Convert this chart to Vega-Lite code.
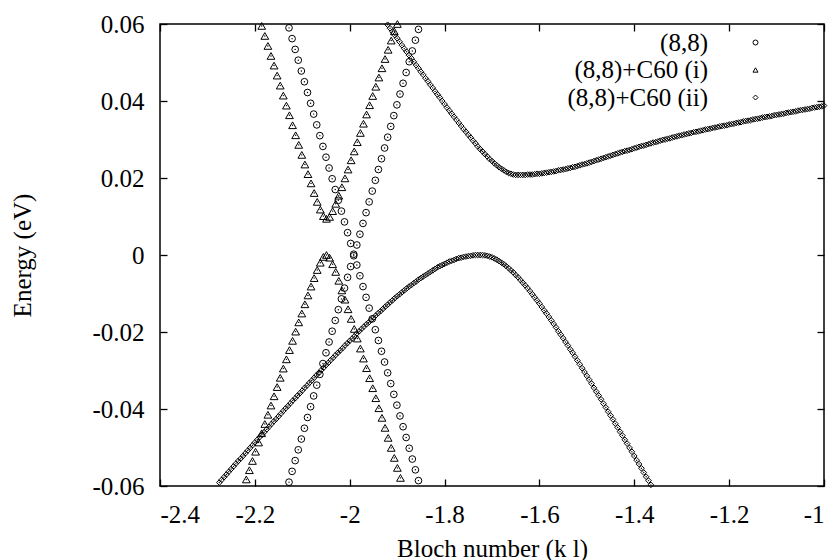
{
"$schema":"https://vega.github.io/schema/vega-lite/v6.json",
"width":664,"height":462,
"autosize":{"type":"none"},
"padding":{"left":160,"top":24,"right":8,"bottom":74},
"background":"white",
"config":{
"view":{"stroke":"black","strokeWidth":1.5},
"font":"Liberation Serif, DejaVu Serif, serif",
"axis":{"grid":false,"domain":false,"ticks":true,"labelFont":"Liberation Serif, DejaVu Serif, serif","labelFontSize":25,"labelColor":"black","titleFont":"Liberation Serif, DejaVu Serif, serif","titleFontSize":25,"titleFontWeight":"normal","titleColor":"black","tickColor":"#000000","tickOpacity":1,"tickWidth":1.3,"tickSize":7,"labelPadding":16,"labelExpr":"datum.value == 0 ? '0' : (datum.value < 0 ? '-' : '') + format(abs(datum.value), '~g')"},
"legend":{"labelFont":"Liberation Serif, DejaVu Serif, serif"}
},
"datasets":{
"c88":[
{"k":-2.128,"e":0.059},{"k":-2.1215,"e":0.0562},{"k":-2.115,"e":0.0534},{"k":-2.1085,"e":0.0506},{"k":-2.102,"e":0.0478},{"k":-2.0955,"e":0.045},{"k":-2.089,"e":0.0422},{"k":-2.0825,"e":0.0394},{"k":-2.076,"e":0.0366},{"k":-2.0695,"e":0.0338},{"k":-2.063,"e":0.031},{"k":-2.0565,"e":0.0282},{"k":-2.05,"e":0.0254},{"k":-2.0435,"e":0.0226},{"k":-2.037,"e":0.0198},{"k":-2.0305,"e":0.017},{"k":-2.024,"e":0.0142},{"k":-2.0175,"e":0.0114},{"k":-2.011,"e":0.0086},{"k":-2.0045,"e":0.0058},{"k":-1.998,"e":0.003},{"k":-1.9915,"e":0.0002},{"k":-1.985,"e":-0.0026},{"k":-1.9785,"e":-0.0054},{"k":-1.972,"e":-0.0082},{"k":-1.9655,"e":-0.011},{"k":-1.959,"e":-0.0138},{"k":-1.9525,"e":-0.0166},{"k":-1.946,"e":-0.0194},{"k":-1.9395,"e":-0.0222},{"k":-1.933,"e":-0.025},{"k":-1.9265,"e":-0.0278},{"k":-1.92,"e":-0.0306},{"k":-1.9135,"e":-0.0334},{"k":-1.907,"e":-0.0362},{"k":-1.9005,"e":-0.039},{"k":-1.894,"e":-0.0418},{"k":-1.8875,"e":-0.0446},{"k":-1.881,"e":-0.0474},{"k":-1.8745,"e":-0.0502},{"k":-1.868,"e":-0.053},{"k":-1.8615,"e":-0.0558},{"k":-1.855,"e":-0.0586},
{"k":-2.128,"e":-0.059},{"k":-2.1215,"e":-0.0562},{"k":-2.115,"e":-0.0534},{"k":-2.1085,"e":-0.0506},{"k":-2.102,"e":-0.0478},{"k":-2.0955,"e":-0.045},{"k":-2.089,"e":-0.0422},{"k":-2.0825,"e":-0.0394},{"k":-2.076,"e":-0.0366},{"k":-2.0695,"e":-0.0338},{"k":-2.063,"e":-0.031},{"k":-2.0565,"e":-0.0282},{"k":-2.05,"e":-0.0254},{"k":-2.0435,"e":-0.0226},{"k":-2.037,"e":-0.0198},{"k":-2.0305,"e":-0.017},{"k":-2.024,"e":-0.0142},{"k":-2.0175,"e":-0.0114},{"k":-2.011,"e":-0.0086},{"k":-2.0045,"e":-0.0058},{"k":-1.998,"e":-0.003},{"k":-1.9915,"e":-0.0002},{"k":-1.985,"e":0.0026},{"k":-1.9785,"e":0.0054},{"k":-1.972,"e":0.0082},{"k":-1.9655,"e":0.011},{"k":-1.959,"e":0.0138},{"k":-1.9525,"e":0.0166},{"k":-1.946,"e":0.0194},{"k":-1.9395,"e":0.0222},{"k":-1.933,"e":0.025},{"k":-1.9265,"e":0.0278},{"k":-1.92,"e":0.0306},{"k":-1.9135,"e":0.0334},{"k":-1.907,"e":0.0362},{"k":-1.9005,"e":0.039},{"k":-1.894,"e":0.0418},{"k":-1.8875,"e":0.0446},{"k":-1.881,"e":0.0474},{"k":-1.8745,"e":0.0502},{"k":-1.868,"e":0.053},{"k":-1.8615,"e":0.0558},{"k":-1.855,"e":0.0586}
],
"ci":[
{"k":-2.1855,"e":0.0595},{"k":-2.179,"e":0.0569},{"k":-2.1725,"e":0.0543},{"k":-2.166,"e":0.0517},{"k":-2.1595,"e":0.0492},{"k":-2.153,"e":0.0466},{"k":-2.1465,"e":0.044},{"k":-2.14,"e":0.0414},{"k":-2.1335,"e":0.0388},{"k":-2.127,"e":0.0363},{"k":-2.1205,"e":0.0337},{"k":-2.114,"e":0.0311},{"k":-2.1075,"e":0.0286},{"k":-2.101,"e":0.026},{"k":-2.0945,"e":0.0235},{"k":-2.088,"e":0.021},{"k":-2.0815,"e":0.0186},{"k":-2.075,"e":0.0161},{"k":-2.0685,"e":0.0138},{"k":-2.062,"e":0.0118},{"k":-2.0555,"e":0.0101},{"k":-2.049,"e":0.0094},{"k":-2.0425,"e":0.0099},{"k":-2.036,"e":0.0114},{"k":-2.0295,"e":0.0133},{"k":-2.023,"e":0.0154},{"k":-2.0165,"e":0.0176},{"k":-2.01,"e":0.0199},{"k":-2.0035,"e":0.0222},{"k":-1.997,"e":0.0246},{"k":-1.9905,"e":0.0269},{"k":-1.984,"e":0.0293},{"k":-1.9775,"e":0.0317},{"k":-1.971,"e":0.0341},{"k":-1.9645,"e":0.0365},{"k":-1.958,"e":0.0389},{"k":-1.9515,"e":0.0413},{"k":-1.945,"e":0.0437},{"k":-1.9385,"e":0.0461},{"k":-1.932,"e":0.0485},{"k":-1.9255,"e":0.0509},{"k":-1.919,"e":0.0533},{"k":-1.9125,"e":0.0557},{"k":-1.906,"e":0.0581},{"k":-1.8995,"e":0.06},
{"k":-2.218,"e":-0.0583},{"k":-2.2115,"e":-0.0559},{"k":-2.205,"e":-0.0535},{"k":-2.1985,"e":-0.0511},{"k":-2.192,"e":-0.0487},{"k":-2.1855,"e":-0.0463},{"k":-2.179,"e":-0.0439},{"k":-2.1725,"e":-0.0415},{"k":-2.166,"e":-0.0391},{"k":-2.1595,"e":-0.0367},{"k":-2.153,"e":-0.0343},{"k":-2.1465,"e":-0.0319},{"k":-2.14,"e":-0.0295},{"k":-2.1335,"e":-0.0271},{"k":-2.127,"e":-0.0247},{"k":-2.1205,"e":-0.0223},{"k":-2.114,"e":-0.0199},{"k":-2.1075,"e":-0.0175},{"k":-2.101,"e":-0.0152},{"k":-2.0945,"e":-0.0128},{"k":-2.088,"e":-0.0105},{"k":-2.0815,"e":-0.0082},{"k":-2.075,"e":-0.006},{"k":-2.0685,"e":-0.0039},{"k":-2.062,"e":-0.002},{"k":-2.0555,"e":-0.0005},{"k":-2.049,"e":0},{"k":-2.0425,"e":-0.0007},{"k":-2.036,"e":-0.0024},{"k":-2.0295,"e":-0.0044},{"k":-2.023,"e":-0.0067},{"k":-2.0165,"e":-0.0092},{"k":-2.01,"e":-0.0116},{"k":-2.0035,"e":-0.0141},{"k":-1.997,"e":-0.0166},{"k":-1.9905,"e":-0.0192},{"k":-1.984,"e":-0.0217},{"k":-1.9775,"e":-0.0243},{"k":-1.971,"e":-0.0269},{"k":-1.9645,"e":-0.0294},{"k":-1.958,"e":-0.032},{"k":-1.9515,"e":-0.0346},{"k":-1.945,"e":-0.0372},{"k":-1.9385,"e":-0.0398},{"k":-1.932,"e":-0.0423},{"k":-1.9255,"e":-0.0449},{"k":-1.919,"e":-0.0475},{"k":-1.9125,"e":-0.0501},{"k":-1.906,"e":-0.0527},{"k":-1.8995,"e":-0.0553},{"k":-1.893,"e":-0.0579}
],
"cii":[
{"k":-2.275,"e":-0.0591},{"k":-2.27,"e":-0.0584},{"k":-2.265,"e":-0.0577},{"k":-2.26,"e":-0.057},{"k":-2.255,"e":-0.0563},{"k":-2.25,"e":-0.0556},{"k":-2.245,"e":-0.0549},{"k":-2.24,"e":-0.0542},{"k":-2.235,"e":-0.0535},{"k":-2.23,"e":-0.0529},{"k":-2.225,"e":-0.0522},{"k":-2.22,"e":-0.0515},{"k":-2.215,"e":-0.0508},{"k":-2.21,"e":-0.0501},{"k":-2.205,"e":-0.0494},{"k":-2.2,"e":-0.0487},{"k":-2.195,"e":-0.048},{"k":-2.19,"e":-0.0473},{"k":-2.185,"e":-0.0467},{"k":-2.18,"e":-0.046},{"k":-2.175,"e":-0.0453},{"k":-2.17,"e":-0.0446},{"k":-2.165,"e":-0.0439},{"k":-2.16,"e":-0.0432},{"k":-2.155,"e":-0.0426},{"k":-2.15,"e":-0.0419},{"k":-2.145,"e":-0.0412},{"k":-2.14,"e":-0.0405},{"k":-2.135,"e":-0.0398},{"k":-2.13,"e":-0.0392},{"k":-2.125,"e":-0.0385},{"k":-2.12,"e":-0.0378},{"k":-2.115,"e":-0.0372},{"k":-2.11,"e":-0.0365},{"k":-2.105,"e":-0.0359},{"k":-2.1,"e":-0.0352},{"k":-2.095,"e":-0.0345},{"k":-2.09,"e":-0.0339},{"k":-2.085,"e":-0.0332},{"k":-2.08,"e":-0.0326},{"k":-2.075,"e":-0.0319},{"k":-2.07,"e":-0.0312},{"k":-2.065,"e":-0.0306},{"k":-2.06,"e":-0.0299},{"k":-2.055,"e":-0.0293},{"k":-2.05,"e":-0.0286},{"k":-2.045,"e":-0.028},{"k":-2.04,"e":-0.0273},{"k":-2.035,"e":-0.0267},{"k":-2.03,"e":-0.026},{"k":-2.025,"e":-0.0254},{"k":-2.02,"e":-0.0248},{"k":-2.015,"e":-0.0242},{"k":-2.01,"e":-0.0235},{"k":-2.005,"e":-0.0229},{"k":-2.0,"e":-0.0223},{"k":-1.995,"e":-0.0217},{"k":-1.99,"e":-0.0211},{"k":-1.985,"e":-0.0204},{"k":-1.98,"e":-0.0198},{"k":-1.975,"e":-0.0192},{"k":-1.97,"e":-0.0186},{"k":-1.965,"e":-0.018},{"k":-1.96,"e":-0.0175},{"k":-1.955,"e":-0.0169},{"k":-1.95,"e":-0.0163},{"k":-1.945,"e":-0.0157},{"k":-1.94,"e":-0.0151},{"k":-1.935,"e":-0.0146},{"k":-1.93,"e":-0.014},{"k":-1.925,"e":-0.0134},{"k":-1.92,"e":-0.0129},{"k":-1.915,"e":-0.0123},{"k":-1.91,"e":-0.0118},{"k":-1.905,"e":-0.0112},{"k":-1.9,"e":-0.0107},{"k":-1.895,"e":-0.0102},{"k":-1.89,"e":-0.0097},{"k":-1.885,"e":-0.0092},{"k":-1.88,"e":-0.0087},{"k":-1.875,"e":-0.0082},{"k":-1.87,"e":-0.0078},{"k":-1.865,"e":-0.0073},{"k":-1.86,"e":-0.0069},{"k":-1.855,"e":-0.0064},{"k":-1.85,"e":-0.006},{"k":-1.845,"e":-0.0056},{"k":-1.84,"e":-0.0052},{"k":-1.835,"e":-0.0048},{"k":-1.83,"e":-0.0044},{"k":-1.825,"e":-0.004},{"k":-1.82,"e":-0.0036},{"k":-1.815,"e":-0.0032},{"k":-1.81,"e":-0.0029},{"k":-1.805,"e":-0.0026},{"k":-1.8,"e":-0.0023},{"k":-1.795,"e":-0.002},{"k":-1.79,"e":-0.0017},{"k":-1.785,"e":-0.0015},{"k":-1.78,"e":-0.0013},{"k":-1.775,"e":-0.001},{"k":-1.77,"e":-0.0008},{"k":-1.765,"e":-0.0007},{"k":-1.76,"e":-0.0005},{"k":-1.755,"e":-0.0004},{"k":-1.75,"e":-0.0003},{"k":-1.745,"e":-0.0002},{"k":-1.74,"e":-0.0001},{"k":-1.735,"e":0},{"k":-1.73,"e":0},{"k":-1.725,"e":0},
{"k":-1.72,"e":0},{"k":-1.715,"e":-0.0001},{"k":-1.71,"e":-0.0002},{"k":-1.705,"e":-0.0004},{"k":-1.7,"e":-0.0006},{"k":-1.695,"e":-0.0009},{"k":-1.69,"e":-0.0012},{"k":-1.685,"e":-0.0016},{"k":-1.68,"e":-0.002},{"k":-1.675,"e":-0.0024},{"k":-1.67,"e":-0.0029},{"k":-1.665,"e":-0.0034},{"k":-1.66,"e":-0.004},{"k":-1.655,"e":-0.0045},{"k":-1.65,"e":-0.0052},{"k":-1.645,"e":-0.0058},{"k":-1.64,"e":-0.0065},{"k":-1.635,"e":-0.0072},{"k":-1.63,"e":-0.0079},{"k":-1.625,"e":-0.0086},{"k":-1.62,"e":-0.0094},{"k":-1.615,"e":-0.0102},{"k":-1.61,"e":-0.011},{"k":-1.605,"e":-0.0118},{"k":-1.6,"e":-0.0126},{"k":-1.595,"e":-0.0135},{"k":-1.59,"e":-0.0144},{"k":-1.585,"e":-0.0152},{"k":-1.58,"e":-0.0161},{"k":-1.575,"e":-0.017},{"k":-1.57,"e":-0.0179},{"k":-1.565,"e":-0.0188},{"k":-1.56,"e":-0.0198},{"k":-1.555,"e":-0.0207},{"k":-1.55,"e":-0.0216},{"k":-1.545,"e":-0.0226},{"k":-1.54,"e":-0.0235},{"k":-1.535,"e":-0.0245},{"k":-1.53,"e":-0.0254},{"k":-1.525,"e":-0.0264},{"k":-1.52,"e":-0.0274},{"k":-1.515,"e":-0.0284},{"k":-1.51,"e":-0.0294},{"k":-1.505,"e":-0.0304},{"k":-1.5,"e":-0.0314},{"k":-1.495,"e":-0.0324},{"k":-1.49,"e":-0.0334},{"k":-1.485,"e":-0.0345},{"k":-1.48,"e":-0.0355},{"k":-1.475,"e":-0.0365},{"k":-1.47,"e":-0.0375},{"k":-1.465,"e":-0.0386},{"k":-1.46,"e":-0.0396},{"k":-1.455,"e":-0.0407},{"k":-1.45,"e":-0.0417},{"k":-1.445,"e":-0.0427},{"k":-1.44,"e":-0.0438},{"k":-1.435,"e":-0.0448},{"k":-1.43,"e":-0.0459},{"k":-1.425,"e":-0.0469},{"k":-1.42,"e":-0.048},{"k":-1.415,"e":-0.049},{"k":-1.41,"e":-0.0501},{"k":-1.405,"e":-0.0511},{"k":-1.4,"e":-0.0522},{"k":-1.395,"e":-0.0533},{"k":-1.39,"e":-0.0543},{"k":-1.385,"e":-0.0554},{"k":-1.38,"e":-0.0565},{"k":-1.375,"e":-0.0576},{"k":-1.37,"e":-0.0586},{"k":-1.365,"e":-0.0597},
{"k":-1.92,"e":0.0598},{"k":-1.915,"e":0.0589},{"k":-1.91,"e":0.058},{"k":-1.905,"e":0.0571},{"k":-1.9,"e":0.0563},{"k":-1.895,"e":0.0554},{"k":-1.89,"e":0.0545},{"k":-1.885,"e":0.0536},{"k":-1.88,"e":0.0528},{"k":-1.875,"e":0.0519},{"k":-1.87,"e":0.0511},{"k":-1.865,"e":0.0502},{"k":-1.86,"e":0.0493},{"k":-1.855,"e":0.0485},{"k":-1.85,"e":0.0476},{"k":-1.845,"e":0.0468},{"k":-1.84,"e":0.0459},{"k":-1.835,"e":0.0451},{"k":-1.83,"e":0.0442},{"k":-1.825,"e":0.0434},{"k":-1.82,"e":0.0425},{"k":-1.815,"e":0.0417},{"k":-1.81,"e":0.0409},{"k":-1.805,"e":0.04},{"k":-1.8,"e":0.0392},{"k":-1.795,"e":0.0383},{"k":-1.79,"e":0.0375},{"k":-1.785,"e":0.0367},{"k":-1.78,"e":0.0359},{"k":-1.775,"e":0.0351},{"k":-1.77,"e":0.0343},{"k":-1.765,"e":0.0335},{"k":-1.76,"e":0.0327},{"k":-1.755,"e":0.032},{"k":-1.75,"e":0.0312},{"k":-1.745,"e":0.0305},{"k":-1.74,"e":0.0297},{"k":-1.735,"e":0.029},{"k":-1.73,"e":0.0282},{"k":-1.725,"e":0.0275},{"k":-1.72,"e":0.0269},{"k":-1.715,"e":0.0262},{"k":-1.71,"e":0.0256},{"k":-1.705,"e":0.0249},{"k":-1.7,"e":0.0244},{"k":-1.695,"e":0.0238},{"k":-1.69,"e":0.0233},{"k":-1.685,"e":0.0228},{"k":-1.68,"e":0.0224},{"k":-1.675,"e":0.022},{"k":-1.67,"e":0.0216},{"k":-1.665,"e":0.0213},{"k":-1.66,"e":0.0211},{"k":-1.655,"e":0.0209},{"k":-1.65,"e":0.0208},{"k":-1.645,"e":0.0208},
{"k":-1.64,"e":0.0208},{"k":-1.635,"e":0.0208},{"k":-1.63,"e":0.0208},{"k":-1.625,"e":0.0209},{"k":-1.62,"e":0.0209},{"k":-1.615,"e":0.0209},{"k":-1.61,"e":0.021},{"k":-1.605,"e":0.0211},{"k":-1.6,"e":0.0211},{"k":-1.595,"e":0.0212},{"k":-1.59,"e":0.0213},{"k":-1.585,"e":0.0214},{"k":-1.58,"e":0.0215},{"k":-1.575,"e":0.0216},{"k":-1.57,"e":0.0217},{"k":-1.565,"e":0.0218},{"k":-1.56,"e":0.022},{"k":-1.555,"e":0.0221},{"k":-1.55,"e":0.0222},{"k":-1.545,"e":0.0223},{"k":-1.54,"e":0.0225},{"k":-1.535,"e":0.0226},{"k":-1.53,"e":0.0228},{"k":-1.525,"e":0.0229},{"k":-1.52,"e":0.0231},{"k":-1.515,"e":0.0233},{"k":-1.51,"e":0.0235},{"k":-1.505,"e":0.0236},{"k":-1.5,"e":0.0238},{"k":-1.495,"e":0.024},{"k":-1.49,"e":0.0242},{"k":-1.485,"e":0.0244},{"k":-1.48,"e":0.0246},{"k":-1.475,"e":0.0248},{"k":-1.47,"e":0.025},{"k":-1.465,"e":0.0252},{"k":-1.46,"e":0.0254},{"k":-1.455,"e":0.0256},{"k":-1.45,"e":0.0258},{"k":-1.445,"e":0.026},{"k":-1.44,"e":0.0262},{"k":-1.435,"e":0.0264},{"k":-1.43,"e":0.0266},{"k":-1.425,"e":0.0268},{"k":-1.42,"e":0.027},{"k":-1.415,"e":0.0271},{"k":-1.41,"e":0.0273},{"k":-1.405,"e":0.0275},{"k":-1.4,"e":0.0277},{"k":-1.395,"e":0.0279},{"k":-1.39,"e":0.0281},{"k":-1.385,"e":0.0283},{"k":-1.38,"e":0.0284},{"k":-1.375,"e":0.0286},{"k":-1.37,"e":0.0288},{"k":-1.365,"e":0.029},{"k":-1.36,"e":0.0292},{"k":-1.355,"e":0.0293},{"k":-1.35,"e":0.0295},{"k":-1.345,"e":0.0297},{"k":-1.34,"e":0.0299},{"k":-1.335,"e":0.03},{"k":-1.33,"e":0.0302},{"k":-1.325,"e":0.0303},{"k":-1.32,"e":0.0305},{"k":-1.315,"e":0.0307},{"k":-1.31,"e":0.0308},{"k":-1.305,"e":0.031},{"k":-1.3,"e":0.0311},{"k":-1.295,"e":0.0313},{"k":-1.29,"e":0.0314},{"k":-1.285,"e":0.0316},{"k":-1.28,"e":0.0317},{"k":-1.275,"e":0.0319},{"k":-1.27,"e":0.032},{"k":-1.265,"e":0.0321},{"k":-1.26,"e":0.0323},{"k":-1.255,"e":0.0324},{"k":-1.25,"e":0.0326},{"k":-1.245,"e":0.0327},{"k":-1.24,"e":0.0328},{"k":-1.235,"e":0.033},{"k":-1.23,"e":0.0331},{"k":-1.225,"e":0.0332},{"k":-1.22,"e":0.0334},{"k":-1.215,"e":0.0335},{"k":-1.21,"e":0.0336},{"k":-1.205,"e":0.0337},{"k":-1.2,"e":0.0339},{"k":-1.195,"e":0.034},{"k":-1.19,"e":0.0341},{"k":-1.185,"e":0.0343},{"k":-1.18,"e":0.0344},{"k":-1.175,"e":0.0345},{"k":-1.17,"e":0.0347},{"k":-1.165,"e":0.0348},{"k":-1.16,"e":0.0349},{"k":-1.155,"e":0.035},{"k":-1.15,"e":0.0352},{"k":-1.145,"e":0.0353},{"k":-1.14,"e":0.0354},{"k":-1.135,"e":0.0355},{"k":-1.13,"e":0.0357},{"k":-1.125,"e":0.0358},{"k":-1.12,"e":0.0359},{"k":-1.115,"e":0.036},{"k":-1.11,"e":0.0361},{"k":-1.105,"e":0.0363},{"k":-1.1,"e":0.0364},{"k":-1.095,"e":0.0365},{"k":-1.09,"e":0.0366},{"k":-1.085,"e":0.0367},{"k":-1.08,"e":0.0369},{"k":-1.075,"e":0.037},{"k":-1.07,"e":0.0371},{"k":-1.065,"e":0.0372},{"k":-1.06,"e":0.0373},{"k":-1.055,"e":0.0375},{"k":-1.05,"e":0.0376},{"k":-1.045,"e":0.0377},{"k":-1.04,"e":0.0378},{"k":-1.035,"e":0.0379},{"k":-1.03,"e":0.038},{"k":-1.025,"e":0.0382},{"k":-1.02,"e":0.0383},{"k":-1.015,"e":0.0384},{"k":-1.01,"e":0.0385},{"k":-1.005,"e":0.0386},{"k":-1.0,"e":0.0388}
]
},
"layer":[
{"mark":{"type":"rule","color":"#222222","strokeWidth":1,"strokeDash":[2,3]},
 "encoding":{"y":{"datum":0,"type":"quantitative","scale":{"domain":[-0.06,0.06],"nice":false,"zero":false},"axis":null}}},
{"data":{"name":"c88"},
 "mark":{"type":"point","filled":false,"color":"black","strokeWidth":1,"size":45,"opacity":1},
 "encoding":{
  "x":{"field":"k","type":"quantitative","scale":{"domain":[-2.4,-1],"nice":false,"zero":false},"axis":{"orient":"bottom","offset":-7,"ticks":true,"tickOpacity":1,"tickColor":"#000000","tickSize":7,"tickWidth":1.3,"values":[-2.4,-2.2,-2,-1.8,-1.6,-1.4,-1.2,-1],"title":"Bloch number (k l)","titleY":77,"titleBaseline":"alphabetic"}},
  "y":{"field":"e","type":"quantitative","scale":{"domain":[-0.06,0.06],"nice":false,"zero":false},"axis":{"orient":"left","offset":-7,"ticks":true,"tickOpacity":1,"tickColor":"#000000","tickSize":7,"tickWidth":1.3,"values":[-0.06,-0.04,-0.02,0,0.02,0.04,0.06],"title":"Energy (eV)","titleX":-137,"titleY":231,"titleBaseline":"alphabetic","titleAlign":"center","titleAngle":-90}},
  "shape":{"datum":"(8,8)","type":"nominal","scale":{"domain":["(8,8)","(8,8)+C60 (i)","(8,8)+C60 (ii)"],"range":["circle","triangle-up","diamond"]},
   "legend":{"orient":"none","legendX":583,"legendY":6,"title":null,"labelFont":"Liberation Serif, DejaVu Serif, serif","labelFontSize":25,"labelColor":"black","labelAlign":"right","labelOffset":-60,"labelLimit":400,"symbolSize":25,"symbolStrokeColor":"black","symbolFillColor":"transparent","symbolStrokeWidth":1,"rowPadding":1.5,"padding":0}}
 }},
{"data":{"name":"ci"},
 "mark":{"type":"point","filled":false,"color":"black","strokeWidth":1,"size":60,"opacity":1},
 "encoding":{
  "x":{"field":"k","type":"quantitative","scale":{"domain":[-2.4,-1],"nice":false,"zero":false},"axis":{"orient":"top","offset":-7,"ticks":true,"tickOpacity":1,"tickColor":"#000000","tickSize":7,"tickWidth":1.3,"labels":false,"title":null,"values":[-2.4,-2.2,-2,-1.8,-1.6,-1.4,-1.2,-1]}},
  "y":{"field":"e","type":"quantitative","scale":{"domain":[-0.06,0.06],"nice":false,"zero":false},"axis":{"orient":"right","offset":-7,"ticks":true,"tickOpacity":1,"tickColor":"#000000","tickSize":7,"tickWidth":1.3,"labels":false,"title":null,"values":[-0.06,-0.04,-0.02,0,0.02,0.04,0.06]}},
  "shape":{"datum":"(8,8)+C60 (i)","type":"nominal"}
 }},
{"data":{"name":"cii"},
 "mark":{"type":"point","filled":false,"color":"black","strokeWidth":1,"size":32,"opacity":1},
 "encoding":{
  "x":{"field":"k","type":"quantitative","scale":{"domain":[-2.4,-1],"nice":false,"zero":false},"axis":null},
  "y":{"field":"e","type":"quantitative","scale":{"domain":[-0.06,0.06],"nice":false,"zero":false},"axis":null},
  "shape":{"datum":"(8,8)+C60 (ii)","type":"nominal"}
 }},
{"data":{"name":"c88"},
 "mark":{"type":"point","shape":"circle","filled":true,"color":"black","size":2,"opacity":1},
 "encoding":{
  "x":{"field":"k","type":"quantitative","scale":{"domain":[-2.4,-1],"nice":false,"zero":false},"axis":null},
  "y":{"field":"e","type":"quantitative","scale":{"domain":[-0.06,0.06],"nice":false,"zero":false},"axis":null}
 }},
{"data":{"name":"ci"},
 "mark":{"type":"point","shape":"circle","filled":true,"color":"black","size":2,"opacity":1},
 "encoding":{
  "x":{"field":"k","type":"quantitative","scale":{"domain":[-2.4,-1],"nice":false,"zero":false},"axis":null},
  "y":{"field":"e","type":"quantitative","scale":{"domain":[-0.06,0.06],"nice":false,"zero":false},"axis":null}
 }},
{"data":{"name":"cii"},
 "mark":{"type":"point","shape":"circle","filled":true,"color":"black","size":2,"opacity":1},
 "encoding":{
  "x":{"field":"k","type":"quantitative","scale":{"domain":[-2.4,-1],"nice":false,"zero":false},"axis":null},
  "y":{"field":"e","type":"quantitative","scale":{"domain":[-0.06,0.06],"nice":false,"zero":false},"axis":null}
 }}
],
"resolve":{"scale":{"x":"independent","y":"independent"},"axis":{"x":"independent","y":"independent"}}
}
